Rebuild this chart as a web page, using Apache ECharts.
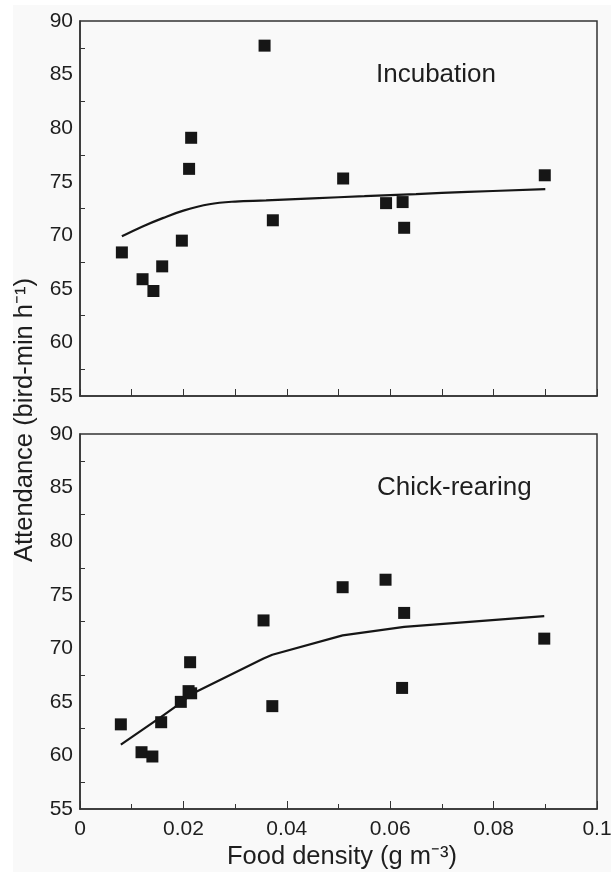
<!DOCTYPE html>
<html>
<head>
<meta charset="utf-8">
<script src="https://cdn.jsdelivr.net/npm/echarts@6/dist/echarts.min.js"></script>
<style>
html,body{margin:0;padding:0;background:#f9f9f9;}
#chart{width:611px;height:872px;}
</style>
</head>
<body>
<div id="chart"></div>
<script>
// Incubation panel
var incX = [0.0081, 0.0121, 0.0142, 0.0159, 0.0197, 0.0211, 0.0215, 0.0357, 0.0373, 0.0509, 0.0592, 0.0624, 0.0627, 0.0899];
var incY = [68.4, 65.9, 64.8, 67.1, 69.5, 76.2, 79.1, 87.7, 71.4, 75.3, 73.0, 73.1, 70.7, 75.6];
var incFitX = [0.0081, 0.012, 0.016, 0.02, 0.025, 0.03, 0.036, 0.045, 0.055, 0.065, 0.075, 0.09];
var incFitY = [69.9, 70.8, 71.6, 72.3, 72.9, 73.15, 73.25, 73.45, 73.65, 73.85, 74.05, 74.3];
// Chick-rearing panel
var chkX = [0.0079, 0.0119, 0.0140, 0.0157, 0.0195, 0.0210, 0.0215, 0.0213, 0.0355, 0.0372, 0.0508, 0.0591, 0.0627, 0.0623, 0.0898];
var chkY = [62.9, 60.3, 59.9, 63.1, 65.0, 66.0, 65.8, 68.7, 72.6, 64.6, 75.7, 76.4, 73.3, 66.3, 70.9];
var chkFitX = [0.0079, 0.0157, 0.0195, 0.0215, 0.0355, 0.0372, 0.0508, 0.0627, 0.0898];
var chkFitY = [61.0, 63.6, 64.9, 65.7, 69.05, 69.4, 71.2, 72.0, 73.0];
// Axis ranges / labels
var xMin = 0, xMax = 0.1, yMin = 55, yMax = 90;
var panelLabels = ['Incubation', 'Chick-rearing'];
var yTitle = 'Attendance (bird-min h⁻¹)';
var xTitle = 'Food density (g m⁻³)';

function pairs(xs, ys){ return xs.map(function(x,i){ return [x, ys[i]]; }); }

var FONT = '"Liberation Sans", Arial, Helvetica, sans-serif';
var AX = '#333333';
var INK = '#161616';
var TXT = '#1e1e1e';

function yAxisCfg(gi){
  return {
    type:'value', gridIndex:gi, min:yMin, max:yMax, interval:5,
    axisLine:{show:true, lineStyle:{color:AX, width:1.5}},
    axisTick:{show:true, inside:true, length:0, lineStyle:{width:0}},
    minorTick:{show:true, splitNumber:2, length:5, lineStyle:{color:AX, width:1}},
    splitLine:{show:false}, minorSplitLine:{show:false},
    axisLabel:{color:TXT, fontSize:21, fontFamily:FONT, margin:7}
  };
}
function xAxisCfg(gi, labels){
  return {
    type:'value', gridIndex:gi, min:xMin, max:xMax, interval: labels ? 0.02 : 0.01,
    axisLine:{show:true, lineStyle:{color:AX, width:1.5}},
    axisTick:{show:true, inside:true, length: labels ? 8 : 7, lineStyle:{color:AX, width:1}},
    minorTick:{show:labels, splitNumber:2, length:5, lineStyle:{color:AX, width:1}},
    splitLine:{show:false}, minorSplitLine:{show:false},
    axisLabel:{show:labels, color:TXT, fontSize:21, fontFamily:FONT, margin:10,
      formatter:function(v){ return v===0 ? '0' : String(+v.toFixed(2)); }}
  };
}

var chart = echarts.init(document.getElementById('chart'), null, {renderer:'canvas'});
chart.setOption({
  backgroundColor:'#f9f9f9',
  animation:false,
  grid:[
    {left:80, top:21, width:517, height:375, show:true, borderColor:AX, borderWidth:1.5, backgroundColor:'transparent', containLabel:false, outerBoundsMode:'none'},
    {left:80, top:434, width:517, height:375, show:true, borderColor:AX, borderWidth:1.5, backgroundColor:'transparent', containLabel:false, outerBoundsMode:'none'}
  ],
  xAxis:[xAxisCfg(0,false), xAxisCfg(1,true)],
  yAxis:[yAxisCfg(0), yAxisCfg(1)],
  graphic:[
    {type:'rect', shape:{x:0,y:0,width:13,height:872}, style:{fill:'#ffffff'}, silent:true, z:-10},
    {type:'rect', shape:{x:0,y:0,width:611,height:5}, style:{fill:'#ffffff'}, silent:true, z:-10},
    {type:'text', left:376, top:62, style:{text:panelLabels[0], fontSize:26, fontFamily:FONT, fill:TXT}},
    {type:'text', left:377, top:475, style:{text:panelLabels[1], fontSize:26, fontFamily:FONT, fill:TXT}},
    {type:'text', x:25, y:420, rotation:Math.PI/2, style:{text:yTitle, fontSize:25.5, fontFamily:FONT, fill:TXT, align:'center', verticalAlign:'middle'}},
    {type:'text', x:342, y:857, style:{text:xTitle, fontSize:25.5, fontFamily:FONT, fill:TXT, align:'center', verticalAlign:'middle'}}
  ],
  series:[
    {type:'line', xAxisIndex:0, yAxisIndex:0, data:pairs(incFitX, incFitY), smooth:0.4, showSymbol:false, lineStyle:{color:INK, width:2.2}, z:2},
    {type:'scatter', xAxisIndex:0, yAxisIndex:0, data:pairs(incX, incY), symbol:'rect', symbolSize:12, itemStyle:{color:INK, opacity:1}, z:3},
    {type:'line', xAxisIndex:1, yAxisIndex:1, data:pairs(chkFitX, chkFitY), smooth:false, showSymbol:false, lineStyle:{color:INK, width:2.2}, z:2},
    {type:'scatter', xAxisIndex:1, yAxisIndex:1, data:pairs(chkX, chkY), symbol:'rect', symbolSize:12, itemStyle:{color:INK, opacity:1}, z:3}
  ]
});
</script>
</body>
</html>
